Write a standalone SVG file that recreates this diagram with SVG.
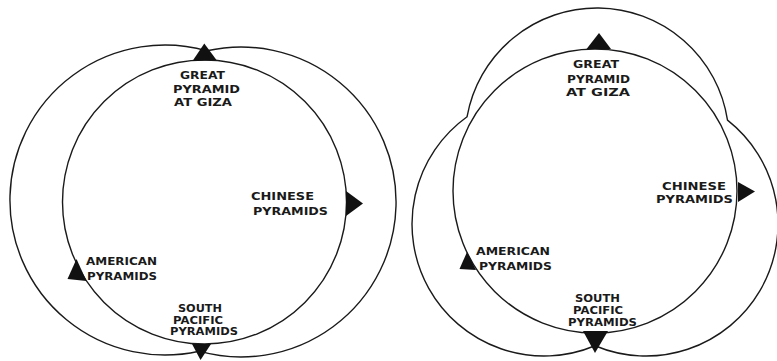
<svg xmlns="http://www.w3.org/2000/svg" width="777" height="361" viewBox="0 0 777 361">
<style>
.ring{fill:none;stroke:#1a1a1a;stroke-width:1.4}
.tri{fill:#111;stroke:none}
.lbl{font-family:"DejaVu Sans","Liberation Sans",sans-serif;font-weight:bold;font-size:11px;fill:#1a1a1a}
</style>
<rect width="777" height="361" fill="#fff"/>
<g id="diagram-left">
  <g id="left-paths">
    <path class="ring" d="M206.95,50.8 A155,155 0 1 0 199.05,351.2 A155,155 0 1 0 206.95,50.8 Z"/>
    <circle class="ring" cx="204.5" cy="202" r="142"/>
  </g>
  <g id="left-giza">
    <polygon class="tri" points="192.5,61 204.3,43.5 216.5,60"/>
    <text class="lbl" x="180" y="78.5" textLength="45" lengthAdjust="spacingAndGlyphs">GREAT</text>
    <text class="lbl" x="173" y="93" textLength="67" lengthAdjust="spacingAndGlyphs">PYRAMID</text>
    <text class="lbl" x="174" y="105.5" textLength="58" lengthAdjust="spacingAndGlyphs">AT GIZA</text>
  </g>
  <g id="left-chinese">
    <polygon class="tri" points="346,191 363,203.5 346,216"/>
    <text class="lbl" x="251" y="200" textLength="63" lengthAdjust="spacingAndGlyphs">CHINESE</text>
    <text class="lbl" x="253" y="215" textLength="75" lengthAdjust="spacingAndGlyphs">PYRAMIDS</text>
  </g>
  <g id="left-american">
    <polygon class="tri" points="67.5,279 76.5,259 86.5,281"/>
    <text class="lbl" x="86" y="265" textLength="71" lengthAdjust="spacingAndGlyphs">AMERICAN</text>
    <text class="lbl" x="87" y="280" textLength="70" lengthAdjust="spacingAndGlyphs">PYRAMIDS</text>
  </g>
  <g id="left-southpacific">
    <polygon class="tri" points="192,344 211,344 200.5,360"/>
    <text class="lbl" x="178" y="312" textLength="44" lengthAdjust="spacingAndGlyphs">SOUTH</text>
    <text class="lbl" x="173" y="323.5" textLength="50" lengthAdjust="spacingAndGlyphs">PACIFIC</text>
    <text class="lbl" x="170" y="335" textLength="68" lengthAdjust="spacingAndGlyphs">PYRAMIDS</text>
  </g>
</g>
<g id="diagram-right">
  <g id="right-paths">
    <path class="ring" d="M467.07,116.74 A132,132 0 0 1 727.5,120.16 A132,132 0 0 1 595,345.75 A132,132 0 0 1 467.07,116.74 Z"/>
    <circle class="ring" cx="595" cy="191" r="142"/>
  </g>
  <g id="right-giza">
    <polygon class="tri" points="586.5,49 599,33 611,49"/>
    <text class="lbl" x="573" y="68" textLength="46" lengthAdjust="spacingAndGlyphs">GREAT</text>
    <text class="lbl" x="567" y="82.5" textLength="63" lengthAdjust="spacingAndGlyphs">PYRAMID</text>
    <text class="lbl" x="566" y="96" textLength="64" lengthAdjust="spacingAndGlyphs">AT GIZA</text>
  </g>
  <g id="right-chinese">
    <polygon class="tri" points="738,182 755,191.5 738,202"/>
    <text class="lbl" x="662" y="190" textLength="64" lengthAdjust="spacingAndGlyphs">CHINESE</text>
    <text class="lbl" x="656" y="203" textLength="77" lengthAdjust="spacingAndGlyphs">PYRAMIDS</text>
  </g>
  <g id="right-american">
    <polygon class="tri" points="459.5,269 467,252 476,270"/>
    <text class="lbl" x="476" y="255" textLength="74" lengthAdjust="spacingAndGlyphs">AMERICAN</text>
    <text class="lbl" x="479" y="270" textLength="73" lengthAdjust="spacingAndGlyphs">PYRAMIDS</text>
  </g>
  <g id="right-southpacific">
    <polygon class="tri" points="583,331 608,331 595,353"/>
    <text class="lbl" x="575" y="302" textLength="45" lengthAdjust="spacingAndGlyphs">SOUTH</text>
    <text class="lbl" x="573" y="313.5" textLength="50" lengthAdjust="spacingAndGlyphs">PACIFIC</text>
    <text class="lbl" x="568" y="325.5" textLength="69" lengthAdjust="spacingAndGlyphs">PYRAMIDS</text>
  </g>
</g>
<g id="connectors"/>
</svg>
